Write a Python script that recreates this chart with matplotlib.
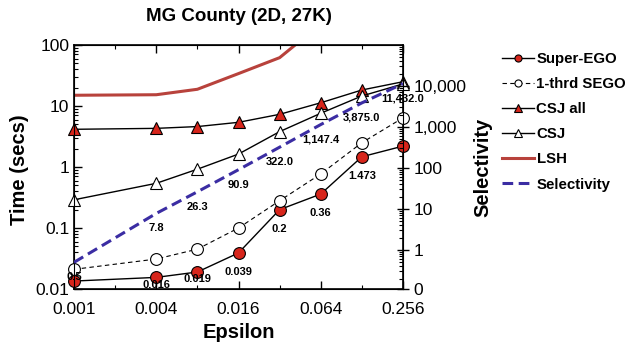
import matplotlib
matplotlib.use("Agg")
import matplotlib.pyplot as plt
from matplotlib.ticker import FixedLocator, NullFormatter, LogLocator, FixedFormatter
import numpy as np

plt.rcParams['font.family'] = ['Liberation Sans', 'DejaVu Sans']

epsilon = [0.001, 0.002, 0.004, 0.008, 0.016, 0.032, 0.064, 0.128, 0.256]
eps_pts = [0.001, 0.004, 0.008, 0.016, 0.032, 0.064, 0.128, 0.256]

super_ego = [0.0135, 0.0155, 0.019, 0.039, 0.2, 0.36, 1.473, 2.2]
super_ego_labels = ["", "0.016", "0.019", "0.039", "0.2", "0.36", "1.473", ""]
one_thrd_sego = [0.021, 0.031, 0.045, 0.10, 0.28, 0.77, 2.5, 6.4]
csj_all = [4.15, 4.3, 4.6, 5.4, 7.3, 11.3, 18.3, 25.0]
csj = [0.29, 0.54, 0.92, 1.63, 3.8, 7.6, 14.6, 23.0]
lsh_eps = [0.001, 0.004, 0.008, 0.016, 0.032, 0.064]
lsh = [15.0, 15.3, 18.8, 34.0, 62.0, 220.0]
selectivity = [0.5, 7.8, 26.3, 90.9, 322.0, 1147.4, 3875.0, 11432.0]
selectivity_labels = ["0.5", "7.8", "26.3", "90.9", "322.0", "1,147.4", "3,875.0", "11,432.0"]

x_ticks = [0.001, 0.004, 0.016, 0.064, 0.256]
x_ticklabels = ["0.001", "0.004", "0.016", "0.064", "0.256"]
y_ticks = [0.01, 0.1, 1, 10, 100]
y_ticklabels = ["0.01", "0.1", "1", "10", "100"]
sel_low = 10 ** (-39 / 41)
sel_ticks = [sel_low, 1, 10, 100, 1000, 10000]
sel_ticklabels = ["0", "1", "10", "100", "1,000", "10,000"]

RED = "#d7251b"
LSH_C = "#b8423c"
SEL_C = "#3b2da3"

fig = plt.figure(figsize=(6.27, 3.5), dpi=100)
ax = fig.add_axes([74 / 627, 1 - 289 / 350, 329 / 627, 244 / 350])
ax2 = ax.twinx()

ms = 8.5
l_se, = ax.plot(eps_pts, super_ego, '-', color='black', lw=1, marker='o', ms=ms,
                mfc=RED, mec='black', mew=0.8, clip_on=False, zorder=5, label="Super-EGO")
l_1t, = ax.plot(eps_pts, one_thrd_sego, '--', color='black', lw=0.8, dashes=(4, 3), marker='o', ms=ms,
                mfc='white', mec='black', mew=0.8, clip_on=False, zorder=5, label="1-thrd SEGO")
l_ca, = ax.plot(eps_pts, csj_all, '-', color='black', lw=1, marker='^', ms=ms + 0.5,
                mfc=RED, mec='black', mew=0.8, clip_on=False, zorder=5, label="CSJ all")
l_c, = ax.plot(eps_pts, csj, '-', color='black', lw=1, marker='^', ms=ms + 0.5,
               mfc='white', mec='black', mew=0.8, clip_on=False, zorder=5, label="CSJ")
l_lsh, = ax.plot(lsh_eps, lsh, '-', color=LSH_C, lw=2.2, zorder=4, label="LSH")

ax.set_xscale('log', base=2)
ax.set_yscale('log')
ax.set_xlim(0.001, 0.256)
ax.set_ylim(0.01, 100)
ax.xaxis.set_major_locator(FixedLocator(x_ticks))
ax.xaxis.set_major_formatter(FixedFormatter(x_ticklabels))
ax.xaxis.set_minor_locator(FixedLocator(epsilon))
ax.xaxis.set_minor_formatter(NullFormatter())
ax.yaxis.set_major_locator(FixedLocator(y_ticks))
ax.yaxis.set_major_formatter(FixedFormatter(y_ticklabels))
ax.yaxis.set_minor_locator(LogLocator(base=10, subs=np.arange(2, 10)))
ax.yaxis.set_minor_formatter(NullFormatter())
ax.tick_params(axis='both', which='major', direction='in', length=6, width=1, labelsize=12.5, top=True)
ax.tick_params(axis='both', which='minor', direction='in', length=3, width=0.8, top=True)
ax.tick_params(axis='x', which='major', pad=9)
for s in ax.spines.values():
    s.set_linewidth(1.2)

l_sel, = ax2.plot(eps_pts, selectivity, '--', color=SEL_C, lw=2.2, dashes=(3.5, 1.8), zorder=3, label="Selectivity")
ax2.set_yscale('log')
ax2.set_ylim(sel_low, 1e5)
ax2.yaxis.set_major_locator(FixedLocator(sel_ticks))
ax2.yaxis.set_major_formatter(FixedFormatter(sel_ticklabels))
ax2.yaxis.set_minor_locator(LogLocator(base=10, subs=np.arange(2, 10)))
ax2.yaxis.set_minor_formatter(NullFormatter())
ax2.tick_params(axis='y', which='major', direction='inout', length=8, width=1, labelsize=12.5)
ax2.tick_params(axis='y', which='minor', direction='in', length=3, width=0.8)

# data labels
for xv, yv, lab in zip(eps_pts, selectivity, selectivity_labels):
    ax2.annotate(lab, (xv, yv), xytext=(0, -15), textcoords='offset pixels',
                 ha='center', va='center', fontsize=8, fontweight='bold', zorder=10,
                 annotation_clip=False)
se_offsets = [0, -8, -7, -19, -19, -19, -19, 0]
for xv, yv, lab, off in zip(eps_pts, super_ego, super_ego_labels, se_offsets):
    if lab:
        ax.annotate(lab, (xv, yv), xytext=(0, off), textcoords='offset pixels',
                    ha='center', va='center', fontsize=8, fontweight='bold', zorder=10,
                    annotation_clip=False)

ax.set_title("MG County (2D, 27K)", fontsize=13.5, fontweight='bold', pad=17)
ax.set_xlabel("Epsilon", fontsize=14.5, fontweight='bold', va='center')
ax.xaxis.set_label_coords(0.5, -0.18)
ax.set_ylabel("Time (secs)", fontsize=14.5, fontweight='bold')
ax.yaxis.set_label_coords(-0.137, 0.488)
ax2.set_ylabel("Selectivity", fontsize=14.5, fontweight='bold')
ax2.yaxis.set_label_coords(1.213, 0.5)

handles = [l_se, l_1t, l_ca, l_c, l_lsh, l_sel]
leg = fig.legend(handles=handles, loc='upper left', bbox_to_anchor=(502 / 627, 1 - 52 / 350),
                 frameon=False, prop={'weight': 'bold', 'size': 10.8},
                 handlelength=2.1, handletextpad=0.2, labelspacing=0.74,
                 borderpad=0, borderaxespad=0, markerscale=0.6)

fig.savefig("out.png", dpi=100)
